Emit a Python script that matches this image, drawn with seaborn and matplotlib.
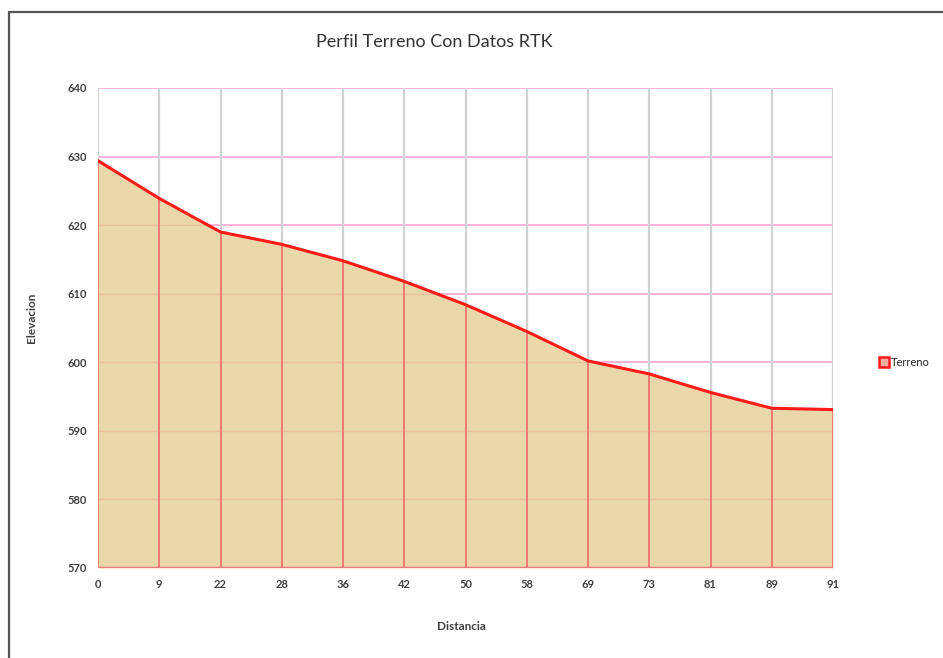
import numpy as np
import pandas as pd
import matplotlib
matplotlib.use("Agg")
import matplotlib.pyplot as plt
from matplotlib.patches import Rectangle
from matplotlib.lines import Line2D
import seaborn as sns

distancia = ["0", "9", "22", "28", "36", "42", "50", "58", "69", "73", "81", "89", "91"]
elevacion = [629.4, 623.9, 619.0, 617.2, 614.8, 611.8, 608.4, 604.5, 600.2, 598.3, 595.6, 593.3, 593.1]
y_ticks = [570, 580, 590, 600, 610, 620, 630, 640]

sns.set_theme(style="white")
plt.rcParams['font.family'] = ['Lato', 'DejaVu Sans']

df = pd.DataFrame({"pos": np.arange(len(distancia)), "Elevacion": elevacion})

fig = plt.figure(figsize=(9.43, 6.58), dpi=100)
ax = fig.add_axes([98/943, 1-568/658, 735/943, 480/658])

ymin, ymax = 570, 640
xs = df["pos"].to_numpy()

# gridlines
for yv in y_ticks:
    ax.axhline(yv, color="#FFB3D9", lw=1.4, zorder=1)
for xv in xs:
    ax.axvline(xv, color="#D2D2D2", lw=1.6, zorder=1)

# area fill
area = ax.fill_between(xs, df["Elevacion"], ymin, color="#EAD6A6", alpha=0.95, lw=0, zorder=2)
# faint horizontal grid inside the area, clipped to the area
for yv in y_ticks[1:]:
    ln = ax.axhline(yv, color="#EBA897", lw=1.0, alpha=0.45, zorder=2.5)
    ln.set_clip_path(area.get_paths()[0], area.get_transform())
# red drop lines inside area
ax.vlines(xs, ymin, df["Elevacion"], color="#F07A72", lw=1.4, zorder=3)
ax.hlines(ymin, xs[0], xs[-1], color="#E87C78", lw=2.5, zorder=3)

sns.lineplot(data=df, x="pos", y="Elevacion", color="#FF1A1A", lw=2.2, ax=ax, zorder=4)

ax.set_xlim(xs[0], xs[-1])
ax.set_ylim(ymin, ymax)
ax.set_xticks(xs)
ax.set_xticklabels(distancia)
ax.set_yticks(y_ticks)
ax.tick_params(axis="both", labelsize=8, colors="#404040", length=0, pad=8)
for lab in ax.get_xticklabels() + ax.get_yticklabels():
    lab.set_fontweight("bold")
for s in ax.spines.values():
    s.set_visible(False)

ax.set_xlabel("")
ax.set_ylabel("")
fig.text(461/943, 1-627/658, "Distancia", ha="center", va="center", fontsize=8.5,
         fontweight="bold", color="#404040")
fig.text(32/943, 1-318/658, "Elevacion", ha="center", va="center", fontsize=8.5,
         fontweight="bold", color="#404040", rotation=90)
fig.text(434/943, 1-42/658, "Perfil Terreno Con Datos RTK", ha="center", va="center",
         fontsize=13, color="#333333")

handle = Line2D([], [], marker="s", linestyle="none", markersize=7,
                markerfacecolor="#F6B0A0", markeredgecolor="#FF1A1A", markeredgewidth=1.8)
fig.legend([handle], ["Terreno"], loc="center left", bbox_to_anchor=(873/943, 1-362/658),
           frameon=False, fontsize=8, handletextpad=0.1, handlelength=1.0, borderpad=0)

# chart border
fig.patches.append(Rectangle((9/943, -0.1), 1.2, 1 - 12/658 + 0.1, transform=fig.transFigure,
                             fill=False, edgecolor="#555555", lw=1.6))

fig.savefig("out.png", dpi=100)
